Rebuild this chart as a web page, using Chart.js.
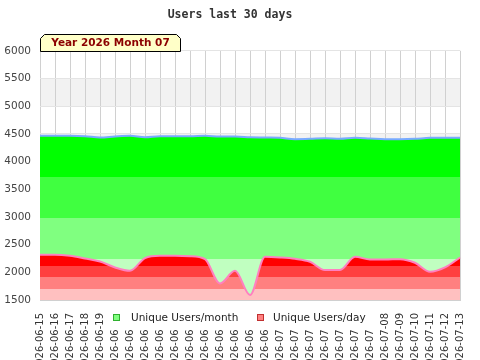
<!DOCTYPE html>
<html>
<head>
<meta charset="utf-8">
<script src="https://cdn.jsdelivr.net/npm/chart.js@4.4.1/dist/chart.umd.min.js"></script>
<style>
  html, body { margin: 0; padding: 0; background: #fff; }
  #wrap { width: 480px; height: 360px; position: relative; }
</style>
</head>
<body>
<div id="wrap"><canvas id="c" width="480" height="360"></canvas></div>
<script>
const chartTitle = "Users last 30 days";
const periodLabel = "Year 2026 Month 07";
const dates = [
  "2026-06-15","2026-06-16","2026-06-17","2026-06-18","2026-06-19","2026-06-20",
  "2026-06-21","2026-06-22","2026-06-23","2026-06-24","2026-06-25","2026-06-26",
  "2026-06-27","2026-06-28","2026-06-29","2026-06-30","2026-07-01","2026-07-02",
  "2026-07-03","2026-07-04","2026-07-05","2026-07-06","2026-07-07","2026-07-08",
  "2026-07-09","2026-07-10","2026-07-11","2026-07-12","2026-07-13"
];
const seriesNames = ["Unique Users/month", "Unique Users/day"];
const usersMonth = [
  4464, 4464, 4464, 4458, 4434, 4452, 4464, 4440, 4458, 4458, 4458, 4464, 4452, 4452, 4440,
  4434, 4428, 4404, 4410, 4422, 4410, 4428, 4416, 4404, 4404, 4410, 4428, 4428, 4428
];
const usersDay = [
  2316, 2318, 2298, 2250, 2196, 2088, 2028, 2256, 2298, 2298, 2292, 2238, 1800, 2028, 1590,
  2280, 2268, 2244, 2190, 2040, 2040, 2280, 2232, 2232, 2238, 2172, 2010, 2088, 2268
];
const yTicks = [1500, 2000, 2500, 3000, 3500, 4000, 4500, 5000, 5500, 6000];

const greenBands = ["#00ff00", "#40ff40", "#80ff80", "#c0ffc0"];
const redBands = ["#ff0000", "#ff4040", "#ff8080", "#ffc0c0"];

function bandFill(bands, values) {
  return function (ctx) {
    const chart = ctx.chart;
    if (!chart.chartArea) return bands[0];
    const ys = chart.scales.y;
    const top = ys.getPixelForValue(Math.max.apply(null, values));
    const bot = ys.getPixelForValue(ys.min);
    const g = chart.ctx.createLinearGradient(0, top, 0, bot);
    const n = bands.length;
    for (let i = 0; i < n; i++) {
      g.addColorStop(i / n, bands[i]);
      g.addColorStop(Math.min(1, (i + 1) / n - 0.0001), bands[i]);
    }
    g.addColorStop(1, bands[n - 1]);
    return g;
  };
}

const bgBands = {
  id: 'bgBands',
  beforeDraw(chart) {
    const { ctx, chartArea: a, scales: { y } } = chart;
    ctx.save();
    ctx.fillStyle = '#f2f2f2';
    for (let v = 5000; v >= y.min; v -= 1000) {
      const t = y.getPixelForValue(v + 500), b = y.getPixelForValue(v);
      ctx.fillRect(a.left, t, a.right - a.left, b - t);
    }
    ctx.restore();
  }
};

const overlay = {
  id: 'overlay',
  afterDraw(chart) {
    const ctx = chart.ctx;
    ctx.save();
    // period tag
    ctx.beginPath();
    ctx.moveTo(40.5, 51.5);
    ctx.lineTo(40.5, 38.5);
    ctx.lineTo(44.5, 34.5);
    ctx.lineTo(176.5, 34.5);
    ctx.lineTo(180.5, 38.5);
    ctx.lineTo(180.5, 51.5);
    ctx.closePath();
    ctx.fillStyle = '#ffffc8';
    ctx.fill();
    ctx.strokeStyle = '#000';
    ctx.lineWidth = 1;
    ctx.stroke();
    ctx.fillStyle = '#8b0000';
    ctx.font = 'bold 10.5px "DejaVu Sans"';
    ctx.textAlign = 'center';
    ctx.textBaseline = 'middle';
    ctx.fillText(periodLabel, 110.5, 43.5);

    // legend
    ctx.fillStyle = '#fff';
    ctx.fillRect(106, 306, 270, 23);
    const items = [
      { x: 113, fill: '#80ff80', stroke: '#30b030', text: seriesNames[0], tx: 131 },
      { x: 257, fill: '#ff8080', stroke: '#c03030', text: seriesNames[1], tx: 273 }
    ];
    ctx.font = '10.5px "DejaVu Sans"';
    ctx.textAlign = 'left';
    ctx.textBaseline = 'middle';
    items.forEach(it => {
      ctx.fillStyle = it.fill;
      ctx.fillRect(it.x, 314, 7, 7);
      ctx.strokeStyle = it.stroke;
      ctx.strokeRect(it.x + 0.5, 314.5, 6, 6);
      ctx.fillStyle = '#222';
      ctx.fillText(it.text, it.tx, 318);
    });
    ctx.restore();
  }
};

new Chart(document.getElementById('c'), {
  type: 'line',
  data: {
    labels: dates,
    datasets: [
      {
        label: seriesNames[0],
        data: usersMonth,
        order: 1,
        fill: 'start',
        backgroundColor: bandFill(greenBands, usersMonth),
        borderColor: '#78aaff',
        borderWidth: 2,
        pointRadius: 0,
        cubicInterpolationMode: 'monotone'
      },
      {
        label: seriesNames[1],
        data: usersDay,
        order: 0,
        fill: 'start',
        backgroundColor: bandFill(redBands, usersDay),
        borderColor: '#ff80c0',
        borderWidth: 2,
        pointRadius: 0,
        cubicInterpolationMode: 'monotone'
      }
    ]
  },
  options: {
    responsive: false,
    animation: false,
    layout: { padding: { top: 2, left: 0, right: 20, bottom: 0 } },
    plugins: {
      legend: { display: false },
      tooltip: { enabled: false },
      title: {
        display: true,
        text: chartTitle,
        color: '#333',
        font: { family: '"DejaVu Sans Mono"', size: 11.5, weight: 'bold' },
        padding: { top: 6, bottom: 29 }
      }
    },
    scales: {
      x: {
        offset: false,
        afterFit(s) { s.height = 60; s.paddingLeft = 0; s.paddingRight = 0; },
        grid: { color: '#d0d0d0', drawTicks: false, lineWidth: 1 },
        border: { color: '#d0d0d0' },
        ticks: {
          autoSkip: false, minRotation: 90, maxRotation: 90,
          padding: 13, color: '#333',
          font: { family: '"DejaVu Sans"', size: 10 }
        }
      },
      y: {
        min: 1500, max: 6000,
        afterFit(s) { s.width = 40; s.paddingTop = 0; s.paddingBottom = 0; },
        afterBuildTicks(s) { s.ticks = yTicks.map(v => ({ value: v })); },
        grid: { color: '#e4e4e4', drawTicks: false },
        border: { display: false },
        ticks: {
          padding: 9, color: '#444',
          font: { family: '"DejaVu Sans"', size: 10.5 },
          callback: v => String(v)
        }
      }
    }
  },
  plugins: [bgBands, overlay]
});
</script>
</body>
</html>
